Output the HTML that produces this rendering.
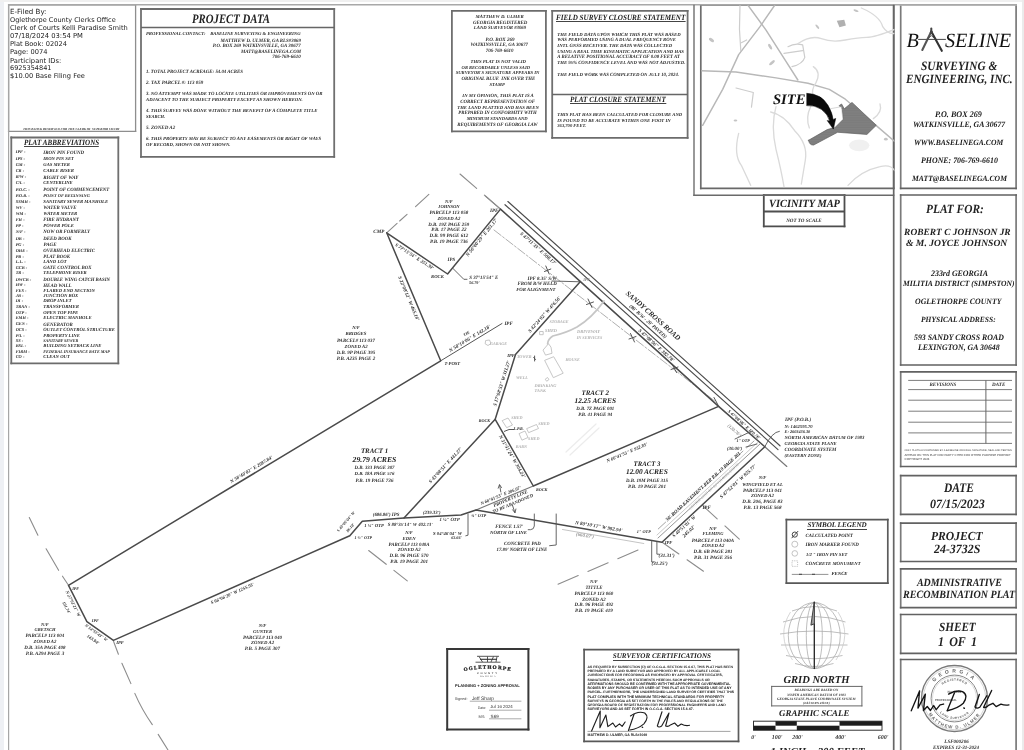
<!DOCTYPE html>
<html lang="en">
<head>
<meta charset="utf-8">
<title>Administrative Recombination Plat - Robert C Johnson Jr &amp; M. Joyce Johnson</title>
<style>
html,body{margin:0;padding:0;background:#fff;}
body{width:1024px;height:750px;position:relative;overflow:hidden;font-family:"Liberation Serif",serif;color:#222;text-rendering:geometricPrecision;}
#page{position:absolute;left:0;top:0;width:1024px;height:750px;overflow:hidden;background:#fff;filter:blur(0.65px);}
.edgeL{position:absolute;left:0;top:0;width:4px;height:750px;background:#eef0f4;}
.edgeT{position:absolute;left:0;top:0;width:1024px;height:2px;background:#f0f0f0;}
.edgeR{position:absolute;left:1021.5px;top:0;width:2.5px;height:750px;background:#ebebeb;}
.bx{position:absolute;box-sizing:border-box;border:1.8px solid #5c5c5c;}
.ln{position:absolute;background:#8a8a8a;}
.t{position:absolute;white-space:pre;line-height:1;}
.c{text-align:center;}
.bi{font-weight:bold;font-style:italic;}
.i{font-style:italic;}
.sans{font-family:"DejaVu Sans","Liberation Sans",sans-serif;}
svg{position:absolute;left:0;top:0;}
.tiny,.sm{color:#2e2e2e;}
.lt{color:#8a8a8a;}
.vlt{color:#b5b5b5;}
.trk{color:#222;}
.road{color:#2a2a2a;}
.cert{color:#222;}
.cert2{color:#333;}
.cert3{color:#444;}
.lt2{color:#b0b0b0;}
.c1{color:#1a1a1a;}
.c3{color:#333;}
.c4{color:#444;}
.c6{color:#666;}
.ul{border-bottom:0.8px solid #444;line-height:0.93;}
.sc{color:#333;}
.s{font-family:"Liberation Sans",sans-serif;}
.sb{font-family:"Liberation Sans",sans-serif;font-weight:bold;}
</style>
</head>
<body>
<div id="page">
<div class="edgeL"></div><div class="edgeT"></div><div class="edgeR"></div>

<!-- OUTER FRAME -->

<!-- E-FILED BLOCK -->

<!-- RIGHT COLUMN BOXES -->


<!-- FRAMES AND BOXES -->
<svg width="1024" height="750" viewBox="0 0 1024 750">
<g fill="none" stroke-linecap="square">
 <path d="M900.7 4.9V188.3M1016.1 4.9V188.3" stroke="#7a7a7a" stroke-width="1.7"/>
 <path d="M900.7 4.9H1016.1" stroke="#b4b4b4" stroke-width="1.7"/><path d="M900.7 188.3H1016.1" stroke="#626262" stroke-width="1.7"/>
 <path d="M900.7 195V365M1016.1 195V365" stroke="#7a7a7a" stroke-width="1.7"/>
 <path d="M900.7 195H1016.1M900.7 365H1016.1" stroke="#626262" stroke-width="1.7"/>
 <path d="M900.7 371.9V466.5M1016.1 371.9V466.5" stroke="#7a7a7a" stroke-width="1.7"/>
 <path d="M900.7 371.9H1016.1M900.7 466.5H1016.1" stroke="#626262" stroke-width="1.7"/>
 <path d="M900.7 475.7V514.4M1016.1 475.7V514.4" stroke="#7a7a7a" stroke-width="1.7"/>
 <path d="M900.7 475.7H1016.1M900.7 514.4H1016.1" stroke="#626262" stroke-width="1.7"/>
 <path d="M900.7 523.2V561.5M1016.1 523.2V561.5" stroke="#7a7a7a" stroke-width="1.7"/>
 <path d="M900.7 523.2H1016.1M900.7 561.5H1016.1" stroke="#626262" stroke-width="1.7"/>
 <path d="M900.7 568.8V607.7M1016.1 568.8V607.7" stroke="#7a7a7a" stroke-width="1.7"/>
 <path d="M900.7 568.8H1016.1M900.7 607.7H1016.1" stroke="#626262" stroke-width="1.7"/>
 <path d="M900.7 614.5V653.3M1016.1 614.5V653.3" stroke="#7a7a7a" stroke-width="1.7"/>
 <path d="M900.7 614.5H1016.1M900.7 653.3H1016.1" stroke="#626262" stroke-width="1.7"/>
 <path d="M900.7 659.5V760M1016.1 659.5V760" stroke="#7a7a7a" stroke-width="1.7"/>
 <path d="M900.7 659.5H1016.1M900.7 760H1016.1" stroke="#626262" stroke-width="1.7"/>
 <path d="M8.6 4.8V131.3M135.6 4.8V131.3" stroke="#8e8e8e" stroke-width="1.3"/>
 <path d="M8.6 4.8H135.6M8.6 131.3H135.6" stroke="#8e8e8e" stroke-width="1.3"/>
 <path d="M141 9V156.9M334.2 9V156.9" stroke="#707070" stroke-width="1.8"/>
 <path d="M141 9H334.2M141 156.9H334.2" stroke="#6c6c6c" stroke-width="1.8"/>
 <path d="M11.3 137.5V363.3M118.3 137.5V363.3" stroke="#707070" stroke-width="1.8"/>
 <path d="M11.3 137.5H118.3M11.3 363.3H118.3" stroke="#6c6c6c" stroke-width="1.8"/>
 <path d="M451.9 10.9V131.3M545.9 10.9V131.3" stroke="#707070" stroke-width="1.8"/>
 <path d="M451.9 10.9H545.9M451.9 131.3H545.9" stroke="#6c6c6c" stroke-width="1.8"/>
 <path d="M552.2 10.9V137.9M687.6 10.9V137.9" stroke="#707070" stroke-width="1.8"/>
 <path d="M552.2 10.9H687.6M552.2 137.9H687.6" stroke="#6c6c6c" stroke-width="1.8"/>
 <path d="M700.8 4.8V188.3M893.7 4.8V188.3" stroke="#6e6e6e" stroke-width="1.7"/>
 <path d="M700.8 4.8H893.7M700.8 188.3H893.7" stroke="#686868" stroke-width="1.7"/>
 <path d="M763.8 195.2V226.4M844.5 195.2V226.4" stroke="#4e4e4e" stroke-width="1.8"/>
 <path d="M763.8 195.2H844.5M763.8 226.4H844.5" stroke="#4e4e4e" stroke-width="1.8"/>
 <path d="M447.2 649.1V729.5M528.4 649.1V729.5" stroke="#383838" stroke-width="2.0"/>
 <path d="M447.2 649.1H528.4M447.2 729.5H528.4" stroke="#383838" stroke-width="2.0"/>
 <path d="M584.1 649.6V741.3M738.5 649.6V741.3" stroke="#5c5c5c" stroke-width="1.7"/>
 <path d="M584.1 649.6H738.5M584.1 741.3H738.5" stroke="#585858" stroke-width="1.7"/>
 <path d="M786.4 519.6V583.2M887.8 519.6V583.2" stroke="#5c5c5c" stroke-width="1.7"/>
 <path d="M786.4 519.6H887.8M786.4 583.2H887.8" stroke="#585858" stroke-width="1.7"/>
 <path d="M771.7 686.4V705.9M861.9 686.4V705.9" stroke="#666" stroke-width="1.0"/>
 <path d="M771.7 686.4H861.9M771.7 705.9H861.9" stroke="#666" stroke-width="1.0"/>
 <path d="M8 4.8L1017 4.8" stroke="#a8a8a8" stroke-width="1.4" stroke-linecap="butt"/>
 <path d="M8.6 4L8.6 750" stroke="#a6a6a6" stroke-width="1.2" stroke-linecap="butt"/>
 <path d="M694 4.8L694 195.9" stroke="#6e6e6e" stroke-width="1.4" stroke-linecap="butt"/>
 <path d="M693.3 195.2L894.3 195.2" stroke="#6a6a6a" stroke-width="1.4" stroke-linecap="butt"/>
 <path d="M893.7 4.8L893.7 750" stroke="#666" stroke-width="1.7" stroke-linecap="butt"/>
 <path d="M141 27.5L334.2 27.5" stroke="#666" stroke-width="1.6" stroke-linecap="butt"/>
 <path d="M552.2 94.5L687.6 94.5" stroke="#666" stroke-width="1.7" stroke-linecap="butt"/>
 <path d="M763.8 211.5L844.5 211.5" stroke="#4e4e4e" stroke-width="1.8" stroke-linecap="butt"/>
 <path d="M587.5 731.4L730.5 731.4" stroke="#999" stroke-width="0.9" stroke-linecap="butt"/>
</g>
</svg>

<!-- RIGHTCOL -->
<div class="t bi" style="left:921.1px;top:60px;font-size:12.72px;transform:scaleX(0.89);transform-origin:0 50%">SURVEYING &amp;</div>
<div class="t bi" style="left:906.4px;top:73px;font-size:12.5px;transform:scaleX(0.89);transform-origin:0 50%">ENGINEERING, INC.</div>
<div class="t bi" style="left:935.0px;top:110px;font-size:8.59px;transform:scaleX(0.95);transform-origin:0 50%">P.O. BOX 269</div>
<div class="t bi" style="left:912.7px;top:121px;font-size:8.16px;transform:scaleX(0.95);transform-origin:0 50%">WATKINSVILLE, GA 30677</div>
<div class="t bi" style="left:914.0px;top:139px;font-size:8.03px;transform:scaleX(0.95);transform-origin:0 50%">WWW.BASELINEGA.COM</div>
<div class="t bi" style="left:921.0px;top:157px;font-size:8.31px;transform:scaleX(0.95);transform-origin:0 50%">PHONE: 706-769-6610</div>
<div class="t bi" style="left:911.7px;top:175px;font-size:8.05px;transform:scaleX(0.95);transform-origin:0 50%">MATT@BASELINEGA.COM</div>
<div class="t bi" style="left:926.0px;top:203px;font-size:12.49px;transform:scaleX(0.91);transform-origin:0 50%">PLAT FOR:</div>
<div class="t bi" style="left:904.1px;top:229px;font-size:9.43px">ROBERT C JOHNSON JR</div>
<div class="t bi" style="left:906.0px;top:239px;font-size:9.6px">&amp; M. JOYCE JOHNSON</div>
<div class="t bi" style="left:930.7px;top:270px;font-size:8.34px;transform:scaleX(0.95);transform-origin:0 50%">233rd GEORGIA</div>
<div class="t bi" style="left:903.3px;top:280px;font-size:7.99px;transform:scaleX(0.95);transform-origin:0 50%">MILITIA DISTRICT (SIMPSTON)</div>
<div class="t bi" style="left:915.0px;top:298px;font-size:8.23px;transform:scaleX(0.95);transform-origin:0 50%">OGLETHORPE COUNTY</div>
<div class="t bi" style="left:921.0px;top:316px;font-size:7.9px;transform:scaleX(0.95);transform-origin:0 50%">PHYSICAL ADDRESS:</div>
<div class="t bi" style="left:914.0px;top:334px;font-size:8.28px;transform:scaleX(0.95);transform-origin:0 50%">593 SANDY CROSS ROAD</div>
<div class="t bi" style="left:918.3px;top:344px;font-size:8.27px;transform:scaleX(0.95);transform-origin:0 50%">LEXINGTON, GA 30648</div>
<div class="t bi" style="left:943.7px;top:481px;font-size:13.11px;transform:scaleX(0.87);transform-origin:0 50%">DATE</div>
<div class="t bi" style="left:930.4px;top:498px;font-size:12.8px;transform:scaleX(0.94);transform-origin:0 50%">07/15/2023</div>
<div class="t bi" style="left:931.4px;top:530px;font-size:12.35px;transform:scaleX(0.94);transform-origin:0 50%">PROJECT</div>
<div class="t bi" style="left:934.2px;top:543px;font-size:12.66px;transform:scaleX(0.94);transform-origin:0 50%">24-3732S</div>
<div class="t bi" style="left:916.7px;top:578px;font-size:11.03px;transform:scaleX(0.9);transform-origin:0 50%">ADMINISTRATIVE</div>
<div class="t bi" style="left:902.7px;top:590px;font-size:11.2px;transform:scaleX(0.9);transform-origin:0 50%">RECOMBINATION PLAT</div>
<div class="t bi" style="left:939.3px;top:621px;font-size:12.44px;transform:scaleX(0.9);transform-origin:0 50%">SHEET</div>
<div class="t bi" style="left:938.3px;top:634.8px;font-size:13.3px;word-spacing:2.5px;transform:scaleX(0.9);transform-origin:0 50%">1 OF 1</div>
<!-- BASELINE LOGO -->
<div class="t i" style="left:906.5px;top:30.8px;font-size:20.2px;color:#111">B</div>
<div class="t i" style="left:945px;top:30.8px;font-size:20.2px;color:#111">SELINE</div>
<svg width="1024" height="750" viewBox="0 0 1024 750">
 <g stroke="#222" fill="none" stroke-linecap="round">
  <path d="M918.5 39.4H945.5" stroke-width="0.9" stroke="#333"/>
  <path d="M931.3 31.5L922.3 50" stroke-width="2.1" stroke="#555"/>
  <path d="M931.3 31.5L941.8 50.8" stroke-width="2.1" stroke="#333"/>
  <path d="M931.3 28.6V32" stroke-width="2" stroke="#444"/>
  <path d="M927.3 39.3L931.3 35.6L935.6 39.3" stroke-width="0.9" stroke="#444"/>
  <circle cx="931.3" cy="32.6" r="1.5" fill="#444" stroke="none"/>
 </g>
</svg>

<!-- REVISIONS TABLE -->
<svg width="1024" height="750" viewBox="0 0 1024 750">
 <g stroke="#7d7d7d" stroke-width="1" fill="none">
  <path d="M908.2 380.4H1012M908.2 389.6H1012M908.2 400.2H1012M908.2 411.2H1012M908.2 422.2H1012M908.2 432.9H1012M908.2 443.4H1012"/>
  <path d="M985.9 380.4V443.4" stroke="#666"/>
 </g>
</svg>

<!-- REVTEXT -->
<div class="t bi tiny" style="left:929.5px;top:383px;font-size:5.05px">REVISIONS</div>
<div class="t bi tiny" style="left:992.1px;top:383px;font-size:5.05px">DATE</div>
<div class="t s cert3" style="left:904.5px;top:450px;font-size:2.55px">ONLY PLATS ACCOMPANIED BY A BASELINE ORIGINAL SIGNATURE, SEAL AND PERTAIN</div>
<div class="t s cert3" style="left:904.5px;top:454px;font-size:2.91px">APPEAR ON THIS PLAT FOR PARTY CITED FOR OTHER PURPOSE PROHIBIT</div>
<div class="t s cert3" style="left:904.5px;top:458px;font-size:2.97px">COPYRIGHT 2024</div>
<!-- TOPLEFT -->
<div class="t sans" style="left:10.0px;top:8px;font-size:7.07px">E-Filed By:</div>
<div class="t sans" style="left:10.0px;top:17px;font-size:6.56px">Oglethorpe County Clerks Office</div>
<div class="t sans" style="left:10.0px;top:25px;font-size:6.69px">Clerk of Courts Kelli Paradise Smith</div>
<div class="t sans" style="left:10.0px;top:33px;font-size:6.79px">07/18/2024 03:54 PM</div>
<div class="t sans" style="left:10.0px;top:41px;font-size:6.68px">Plat Book: 02024</div>
<div class="t sans" style="left:10.0px;top:49px;font-size:6.67px">Page: 0074</div>
<div class="t sans" style="left:10.0px;top:58px;font-size:6.78px">Participant IDs:</div>
<div class="t sans" style="left:10.0px;top:65px;font-size:6.52px">6925354841</div>
<div class="t sans" style="left:10.0px;top:73px;font-size:6.67px">$10.00 Base Filing Fee</div>
<div class="t bi sm" style="left:23.0px;top:128px;font-size:3.22px">THIS BLOCK RESERVED FOR THE CLERK OF SUPERIOR COURT</div>
<div class="t bi" style="left:191.8px;top:13px;font-size:12.82px;transform:scaleX(0.84);transform-origin:0 50%">PROJECT DATA</div>
<div class="t bi tiny" style="left:146.0px;top:33px;font-size:4.71px">PROFESSIONAL CONTACT:    BASELINE SURVEYING &amp; ENGINEERING</div>
<div class="t bi tiny" style="left:220.6px;top:40px;font-size:4.88px">MATTHEW D. ULMER, GA RLS#3069</div>
<div class="t bi tiny" style="left:212.8px;top:45px;font-size:4.93px">P.O. BOX 269 WATKINSVILLE, GA 30677</div>
<div class="t bi tiny" style="left:241.0px;top:51px;font-size:4.83px">MATT@BASELINEGA.COM</div>
<div class="t bi tiny" style="left:272.2px;top:55px;font-size:5.05px">706-769-6610</div>
<div class="t bi tiny" style="left:146.0px;top:71px;font-size:4.85px">1. TOTAL PROJECT ACREAGE: 54.04 ACRES</div>
<div class="t bi tiny" style="left:146.0px;top:81px;font-size:5.01px">2. TAX PARCEL #: 113 059</div>
<div class="t bi tiny" style="left:146.0px;top:93px;font-size:4.79px">3. NO ATTEMPT WAS MADE TO LOCATE UTILITIES OR IMPROVEMENTS ON OR</div>
<div class="t bi tiny" style="left:146.0px;top:99px;font-size:4.72px">ADJACENT TO THE SUBJECT PROPERTY EXCEPT AS SHOWN HEREON.</div>
<div class="t bi tiny" style="left:146.0px;top:110px;font-size:4.77px">4. THIS SURVEY WAS DONE WITHOUT THE BENEFIT OF A COMPLETE TITLE</div>
<div class="t bi tiny" style="left:146.0px;top:115px;font-size:4.54px">SEARCH.</div>
<div class="t bi tiny" style="left:146.0px;top:126px;font-size:5.03px">5. ZONED A2</div>
<div class="t bi tiny" style="left:146.0px;top:138px;font-size:4.78px">6. THIS PROPERTY MAY BE SUBJECT TO ANY EASEMENTS OR RIGHT OF WAYS</div>
<div class="t bi tiny" style="left:146.0px;top:144px;font-size:4.7px">OF RECORD, SHOWN OR NOT SHOWN.</div>
<!-- ABBREV -->
<div class="t bi ul" style="left:24.0px;top:139px;font-size:8.03px;transform:scaleX(0.88);transform-origin:0 50%">PLAT ABBREVIATIONS</div>
<div class="t bi tiny" style="left:15.7px;top:150px;font-size:4.4px">IPF -</div>
<div class="t bi tiny" style="left:43.3px;top:152px;font-size:4.95px">IRON PIN FOUND</div>
<div class="t bi tiny" style="left:15.7px;top:157px;font-size:4.4px">IPS -</div>
<div class="t bi tiny" style="left:43.3px;top:158px;font-size:4.68px">IRON PIN SET</div>
<div class="t bi tiny" style="left:15.7px;top:163px;font-size:4.4px">GM -</div>
<div class="t bi tiny" style="left:43.3px;top:164px;font-size:4.69px">GAS METER</div>
<div class="t bi tiny" style="left:15.7px;top:169px;font-size:4.4px">CR -</div>
<div class="t bi tiny" style="left:43.3px;top:170px;font-size:4.74px">CABLE RISER</div>
<div class="t bi tiny" style="left:15.7px;top:175px;font-size:4.4px">R/W -</div>
<div class="t bi tiny" style="left:43.3px;top:177px;font-size:4.96px">RIGHT OF WAY</div>
<div class="t bi tiny" style="left:15.7px;top:181px;font-size:4.4px">C/L -</div>
<div class="t bi tiny" style="left:43.3px;top:181px;font-size:4.6px">CENTERLINE</div>
<div class="t bi tiny" style="left:15.7px;top:188px;font-size:4.4px">P.O.C. -</div>
<div class="t bi tiny" style="left:43.3px;top:189px;font-size:4.82px">POINT OF COMMENCEMENT</div>
<div class="t bi tiny" style="left:15.7px;top:194px;font-size:4.4px">P.O.B. -</div>
<div class="t bi tiny" style="left:43.3px;top:194px;font-size:4.39px">POINT OF BEGINNING</div>
<div class="t bi tiny" style="left:15.7px;top:200px;font-size:4.4px">SSMH -</div>
<div class="t bi tiny" style="left:43.3px;top:201px;font-size:4.72px">SANITARY SEWER MANHOLE</div>
<div class="t bi tiny" style="left:15.7px;top:206px;font-size:4.4px">WV -</div>
<div class="t bi tiny" style="left:43.3px;top:207px;font-size:4.92px">WATER VALVE</div>
<div class="t bi tiny" style="left:15.7px;top:212px;font-size:4.4px">WM -</div>
<div class="t bi tiny" style="left:43.3px;top:213px;font-size:4.77px">WATER METER</div>
<div class="t bi tiny" style="left:15.7px;top:218px;font-size:4.4px">FH -</div>
<div class="t bi tiny" style="left:43.3px;top:219px;font-size:4.81px">FIRE HYDRANT</div>
<div class="t bi tiny" style="left:15.7px;top:224px;font-size:4.4px">PP -</div>
<div class="t bi tiny" style="left:43.3px;top:225px;font-size:4.78px">POWER POLE</div>
<div class="t bi tiny" style="left:15.7px;top:230px;font-size:4.4px">N/F -</div>
<div class="t bi tiny" style="left:43.3px;top:231px;font-size:4.83px">NOW OR FORMERLY</div>
<div class="t bi tiny" style="left:15.7px;top:237px;font-size:4.4px">DB -</div>
<div class="t bi tiny" style="left:43.3px;top:238px;font-size:4.89px">DEED BOOK</div>
<div class="t bi tiny" style="left:15.7px;top:243px;font-size:4.4px">PG -</div>
<div class="t bi tiny" style="left:43.5px;top:243px;font-size:5.05px">PAGE</div>
<div class="t bi tiny" style="left:15.7px;top:249px;font-size:4.4px">OHE -</div>
<div class="t bi tiny" style="left:43.3px;top:250px;font-size:4.81px">OVERHEAD ELECTRIC</div>
<div class="t bi tiny" style="left:15.7px;top:255px;font-size:4.4px">PB -</div>
<div class="t bi tiny" style="left:43.3px;top:256px;font-size:4.88px">PLAT BOOK</div>
<div class="t bi tiny" style="left:15.7px;top:260px;font-size:4.4px">L.L. -</div>
<div class="t bi tiny" style="left:43.3px;top:261px;font-size:4.76px">LAND LOT</div>
<div class="t bi tiny" style="left:15.7px;top:266px;font-size:4.4px">GCB -</div>
<div class="t bi tiny" style="left:43.3px;top:267px;font-size:4.91px">GATE CONTROL BOX</div>
<div class="t bi tiny" style="left:15.7px;top:271px;font-size:4.4px">TR -</div>
<div class="t bi tiny" style="left:43.3px;top:272px;font-size:4.69px">TELEPHONE RISER</div>
<div class="t bi tiny" style="left:15.7px;top:278px;font-size:4.4px">DWCB -</div>
<div class="t bi tiny" style="left:43.3px;top:279px;font-size:4.8px">DOUBLE WING CATCH BASIN</div>
<div class="t bi tiny" style="left:15.7px;top:283px;font-size:4.4px">HW -</div>
<div class="t bi tiny" style="left:43.3px;top:285px;font-size:4.92px">HEAD WALL</div>
<div class="t bi tiny" style="left:15.7px;top:289px;font-size:4.4px">FES -</div>
<div class="t bi tiny" style="left:43.3px;top:290px;font-size:4.72px">FLARED END SECTION</div>
<div class="t bi tiny" style="left:15.7px;top:294px;font-size:4.4px">JB -</div>
<div class="t bi tiny" style="left:43.3px;top:295px;font-size:4.75px">JUNCTION BOX</div>
<div class="t bi tiny" style="left:15.7px;top:299px;font-size:4.4px">DI -</div>
<div class="t bi tiny" style="left:43.3px;top:300px;font-size:4.78px">DROP INLET</div>
<div class="t bi tiny" style="left:15.7px;top:305px;font-size:4.4px">TRAN -</div>
<div class="t bi tiny" style="left:43.3px;top:306px;font-size:4.76px">TRANSFORMER</div>
<div class="t bi tiny" style="left:15.7px;top:311px;font-size:4.4px">OTP -</div>
<div class="t bi tiny" style="left:43.3px;top:312px;font-size:4.74px">OPEN TOP PIPE</div>
<div class="t bi tiny" style="left:15.7px;top:316px;font-size:4.4px">EMH -</div>
<div class="t bi tiny" style="left:43.3px;top:317px;font-size:4.72px">ELECTRIC MANHOLE</div>
<div class="t bi tiny" style="left:15.7px;top:322px;font-size:4.4px">GEN -</div>
<div class="t bi tiny" style="left:43.3px;top:324px;font-size:4.87px">GENERATOR</div>
<div class="t bi tiny" style="left:15.7px;top:328px;font-size:4.4px">OCS -</div>
<div class="t bi tiny" style="left:43.3px;top:329px;font-size:4.77px">OUTLET CONTROL STRUCTURE</div>
<div class="t bi tiny" style="left:15.7px;top:334px;font-size:4.4px">P/L -</div>
<div class="t bi tiny" style="left:43.3px;top:335px;font-size:4.72px">PROPERTY LINE</div>
<div class="t bi tiny" style="left:15.7px;top:339px;font-size:4.4px">SS -</div>
<div class="t bi tiny" style="left:43.2px;top:339px;font-size:4.15px">SANITARY SEWER</div>
<div class="t bi tiny" style="left:15.7px;top:344px;font-size:4.4px">BSL -</div>
<div class="t bi tiny" style="left:43.3px;top:345px;font-size:4.73px">BUILDING SETBACK LINE</div>
<div class="t bi tiny" style="left:15.7px;top:350px;font-size:4.4px">FIRM -</div>
<div class="t bi tiny" style="left:43.3px;top:350px;font-size:4.2px">FEDERAL INSURANCE RATE MAP</div>
<div class="t bi tiny" style="left:15.7px;top:355px;font-size:4.4px">CO -</div>
<div class="t bi tiny" style="left:43.3px;top:356px;font-size:4.73px">CLEAN OUT</div>
<!-- STATEMENTS -->
<div class="t bi tiny" style="left:475.6px;top:16px;font-size:4.79px">MATTHEW D. ULMER</div>
<div class="t bi tiny" style="left:473.0px;top:22px;font-size:4.92px">GEORGIA REGISTERED</div>
<div class="t bi tiny" style="left:473.8px;top:27px;font-size:4.78px">LAND SURVEYOR #3069</div>
<div class="t bi tiny" style="left:485.5px;top:38px;font-size:5.05px">P.O. BOX 269</div>
<div class="t bi tiny" style="left:470.5px;top:44px;font-size:4.84px">WATKINSVILLE, GA 30677</div>
<div class="t bi tiny" style="left:485.7px;top:50px;font-size:4.92px">706-769-6610</div>
<div class="t bi tiny" style="left:470.5px;top:61px;font-size:4.74px">THIS PLAT IS NOT VALID</div>
<div class="t bi tiny" style="left:461.6px;top:66px;font-size:4.56px">OR RECORDABLE UNLESS SAID</div>
<div class="t bi tiny" style="left:455.7px;top:72px;font-size:4.65px">SURVEYOR'S SIGNATURE APPEARS IN</div>
<div class="t bi tiny" style="left:461.6px;top:78px;font-size:4.8px">ORIGINAL BLUE  INK OVER THE</div>
<div class="t bi tiny" style="left:489.5px;top:84px;font-size:4.67px">STAMP</div>
<div class="t bi tiny" style="left:462.3px;top:95px;font-size:4.79px">IN MY OPINION, THIS PLAT IS A</div>
<div class="t bi tiny" style="left:460.3px;top:101px;font-size:4.87px">CORRECT REPRESENTATION OF</div>
<div class="t bi tiny" style="left:457.3px;top:107px;font-size:4.73px">THE LAND PLATTED AND HAS BEEN</div>
<div class="t bi tiny" style="left:458.3px;top:112px;font-size:4.81px">PREPARED IN CONFORMITY WITH</div>
<div class="t bi tiny" style="left:466.7px;top:117px;font-size:4.58px">MINIMUM STANDARDS AND</div>
<div class="t bi tiny" style="left:457.3px;top:124px;font-size:4.84px">REQUIREMENTS OF GEORGIA LAW</div>
<div class="t bi ul" style="left:555.5px;top:14px;font-size:7.93px;transform:scaleX(0.9);transform-origin:0 50%">FIELD SURVEY CLOSURE STATEMENT</div>
<div class="t bi ul" style="left:569.5px;top:96px;font-size:7.93px;transform:scaleX(0.9);transform-origin:0 50%">PLAT CLOSURE STATEMENT</div>
<div class="t bi tiny" style="left:557.3px;top:34px;font-size:4.75px">THE FIELD DATA UPON WHICH THIS PLAT WAS BASED</div>
<div class="t bi tiny" style="left:557.3px;top:39px;font-size:4.76px">WAS PERFORMED USING A DUAL FREQUENCY ROVE</div>
<div class="t bi tiny" style="left:557.3px;top:45px;font-size:4.76px">INTL GNSS RECEIVER. THE DATA WAS COLLECTED</div>
<div class="t bi tiny" style="left:557.3px;top:51px;font-size:4.74px">USING A REAL TIME KINEMATIC APPLICATION AND HAS</div>
<div class="t bi tiny" style="left:557.3px;top:56px;font-size:4.83px">A RELATIVE POSITIONAL ACCURACY OF 0.08 FEET AT</div>
<div class="t bi tiny" style="left:557.3px;top:62px;font-size:4.76px">THE 95% CONFIDENCE LEVEL AND WAS NOT ADJUSTED.</div>
<div class="t bi tiny" style="left:557.3px;top:74px;font-size:4.78px">THE FIELD WORK WAS COMPLETED ON JULY 10, 2024.</div>
<div class="t bi tiny" style="left:557.3px;top:114px;font-size:4.72px">THIS PLAT HAS BEEN CALCULATED FOR CLOSURE AND</div>
<div class="t bi tiny" style="left:557.3px;top:120px;font-size:4.72px">IS FOUND TO BE ACCURATE WITHIN ONE FOOT IN</div>
<div class="t bi tiny" style="left:557.3px;top:124px;font-size:4.58px">363,700 FEET.</div>
<!-- VICINITY MAP -->
<svg width="1024" height="750" viewBox="0 0 1024 750">
<defs>
<pattern id="hatch" width="9" height="9" patternUnits="userSpaceOnUse" patternTransform="rotate(0)"><rect width="9" height="9" fill="#858585"/><path d="M0 2H9M0 6.5H9" stroke="#6e6e6e" stroke-width="1.6"/></pattern>
<clipPath id="vclip"><rect x="20" y="20" width="724" height="684"/></clipPath>
</defs>
<g transform="translate(696,0) scale(0.266667)" fill="none" stroke-linecap="round" stroke-linejoin="round" clip-path="url(#vclip)">
 <!-- roads -->
 <g stroke="#b8b8b8" stroke-width="5.5">
  <path d="M20 265 L150 270 L300 292 L420 312 L500 335 L560 372 L640 440 L745 530"/>
  <path d="M195 20 L262 112 L332 222 L382 300"/>
  <path d="M295 20 L240 100 L160 205 L100 335 L25 470"/>
 </g>
 <g stroke="#cdcdcd" stroke-width="4.5">
  <path d="M165 20 L163 110 L168 190"/>
  <path d="M150 330 L215 347 L208 402"/>
  <path d="M345 175 Q370 160 400 168 L408 215 Q400 240 360 250"/>
  <path d="M330 200 L400 190"/>
  <path d="M170 160 L190 150"/>
 </g>
 <!-- streams -->
 <g stroke="#dadada" stroke-width="5">
  <path d="M380 165 Q430 130 470 145 T560 150 T640 140 T745 110"/>
  <path d="M440 250 Q470 270 450 310 Q430 340 440 360"/>
  <path d="M280 420 Q330 430 370 490 Q420 540 410 600 L395 690"/>
  <path d="M300 400 Q280 470 300 560 Q320 640 330 700"/>
  <path d="M160 500 Q140 580 170 620 L205 695"/>
  <path d="M570 695 Q620 640 690 625 Q730 615 745 640"/>
  <path d="M690 390 Q700 420 665 445"/>
  <path d="M430 400 Q410 440 425 480"/>
  <path d="M620 30 Q690 60 700 100 Q720 130 745 125"/>
 </g>
 <!-- blotches -->
 <g fill="#c4c4c4" stroke="none">
  <path d="M528 78 L556 74 L562 96 L538 102Z" fill="#b0b0b0"/>
  <ellipse cx="58" cy="150" rx="11" ry="6" transform="rotate(35 58 150)"/>
  <ellipse cx="278" cy="175" rx="12" ry="5" transform="rotate(60 278 175)"/>
  <ellipse cx="285" cy="235" rx="13" ry="5" transform="rotate(-40 285 235)"/>
  <ellipse cx="455" cy="100" rx="10" ry="4" transform="rotate(50 455 100)"/>
  <ellipse cx="600" cy="40" rx="10" ry="4" transform="rotate(20 600 40)"/>
  <ellipse cx="148" cy="452" rx="7" ry="4"/>
  <ellipse cx="712" cy="522" rx="7" ry="5"/>
  <ellipse cx="612" cy="545" rx="38" ry="22" fill="#f0f0f0"/>
 </g>
 <!-- site parcel -->
 <path d="M422 526 L492 486 L520 478 L551 447 L549 410 L537 396 L546 390 L556 408 L585 384 L676 470 L641 504 L531 496 L441 544 Q425 545 422 526Z" fill="url(#hatch)" stroke="#5a5a5a" stroke-width="2.5"/>
 <path d="M503 408 L545 400 L551 447 L520 478 L508 452Z" fill="#fff" stroke="#999" stroke-width="1.5"/>
 <!-- arrow -->
 <path d="M416 350 Q470 352 495 395 Q512 425 514 448 L524 444 L515 484 L492 452 L501 454 Q496 430 470 410 Q445 393 416 396Z" fill="#0a0a0a" stroke="#0a0a0a" stroke-width="2"/>
</g>
</svg>
<div class="t bi" style="left:773px;top:93.4px;font-size:14.6px;color:#111">SITE</div>
<!-- vicinity label -->

<!-- VICLABEL -->
<div class="t bi" style="left:769.0px;top:199px;font-size:11.07px;transform:scaleX(0.94);transform-origin:0 50%">VICINITY MAP</div>
<div class="t bi tiny" style="left:786.2px;top:219px;font-size:5.05px">NOT TO SCALE</div>
<!-- MAIN SURVEY LINEWORK -->
<svg width="1024" height="750" viewBox="0 0 1024 750">
<g fill="none" stroke-linecap="round" stroke-linejoin="round">
 <!-- road right-of-way / pavement lines -->
 <g stroke="#4c4c4c" stroke-width="1.15">
  <path d="M505 204.7L778 449.6"/>
  <path d="M507.9 201.5L780 445.8"/>
  <path d="M484.4 195.1L500.5 209.1" stroke="#888"/>
  <path d="M764.8 446.7L786.8 466.5" stroke="#777"/>
 </g>
 <!-- light tie / old line through tract 2 -->
 <path d="M494 230L716 402" stroke="#9a9a9a" stroke-width="0.8" stroke-dasharray="9 2 2 2"/>
 <g stroke="#555" stroke-width="1">
  <path d="M545.8 266L549.2 274M544.5 271.5L550.8 269"/>
  <path d="M588 299L592 307.5M586.5 304.5L593.5 302"/>
  <path d="M630.5 333.5L634.5 342M629 339L636 336.5"/>
  <path d="M672 364L676.5 372.5M671 369.5L678 367"/>
  <path d="M714 397.5L718 405"/>
 </g>
 <!-- adjoiner dashed lines -->
 <g stroke="#8c8c8c" stroke-width="1.1" stroke-dasharray="13 7">
  <path d="M386.7 232.8L430 193.4" stroke-dasharray="14 3.5 10 11.5 18 100"/>
  <path d="M460 174L500.5 209.1" stroke-dasharray="22 11.6"/>
  <path d="M29.3 517.6L37.9 535.2M46.1 548.8L58.6 570.3M62.5 576.2L68.5 585.3" stroke-dasharray="none"/>
  <path d="M113.6 641.5L118.4 654.3M121.9 663.3L130.9 683.6M134.8 693.4Q142 710 152.3 724.6M158.2 734.4L168 750" stroke-dasharray="none"/>
  <path d="M349.8 535.7L410 583" stroke-dasharray="0 24 22.3 9.8 17 100"/>
  <path d="M638 550L556 585" stroke-dasharray="22 10.5"/>
  
  <path d="M662.5 542.5L705 572.3" stroke-dasharray="20 10"/>
  <path d="M702.8 505.7L742 541.6" stroke-dasharray="19.5 10.5"/>
 </g>
 <!-- tie line T-POST to IPF -->
 <path d="M440.7 360.8L502 323.5" stroke="#555" stroke-width="1"/>
 <!-- property line to be abandoned -->
 <path d="M476 510L533.3 486" stroke="#777" stroke-width="1.1"/>
 <!-- tract boundaries -->
 <g stroke="#4a4a4a" stroke-width="1.5">
  <path d="M386.7 232.8L447.6 274L500.5 209.1L580.4 281.6L718.6 406.4L764.8 446.7L662 542.3L476 510L461 515L404 518L362.3 521.3L349.8 535.7L113.4 640.4L86.9 621.6L68.5 585.3L440.7 360.8Z"/>
  <path d="M580.4 281.6L515.5 354.5L495.2 419.3L404 518"/>
  <path d="M495.2 419.3L533.3 486L718.6 406.4"/>
 </g>
 <!-- road easement lines in tract 3 -->
 <g stroke="#8a8a8a" stroke-width="0.9">
  <path d="M760 444L658 538"/>
  <path d="M754 441L656 531" stroke-dasharray="10 5" stroke="#999"/>
  <path d="M757.5 442.5L657 535" stroke="#c4c4c4"/>
 </g>
 <!-- leaders -->
 <g stroke="#555" stroke-width="0.9">
  <path d="M452.8 268.3L463.8 279.3H467"/>
  <path d="M552 281L580 281.8"/>
  <path d="M779.4 431.3Q772 432 764.8 446.7"/>
  <path d="M468 514V535.2L465.8 535.8"/>
  <path d="M534.3 514V526Q534 529.5 530.5 529.7H528.2"/>
  <path d="M556.2 514V545L549.6 545.7"/>
  <path d="M656.9 542V554.2H659"/>
  <path d="M651.7 541.5V562H654"/>
  <path d="M746 447L757 444"/>
  <path d="M735 439L752 431"/>
  <path d="M500.8 492L499.6 485M498.2 488.2L499.5 484.6L501.5 487.6M512.4 505L514.8 512.4M512.6 509.8L515 512.9L515.9 509"/>
  <path d="M562.5 529.5L643.8 543.5" stroke="#bdbdbd"/>
 </g>
</g>
</svg>

<!-- EXISTING STRUCTURES (light) -->
<svg width="1024" height="750" viewBox="0 0 1024 750">
 <g fill="none" stroke="#b9b9b9" stroke-width="0.8" stroke-linejoin="round" stroke-linecap="round">
  <path d="M604 301Q592 318 577 327Q566 333 552.8 336Q548 339 547.6 343.7" stroke="#c6c6c6" stroke-width="1.7"/>
  <path d="M545 360.2L553.7 356.7L563.2 373.2L553.7 377.5Z"/>
  <path d="M543.3 349.8L548.5 343.7L551 347.2L552 353.3L545.9 355Z"/>
  <rect x="540" y="331.5" width="3.2" height="3.2"/>
  <path d="M486 340.5L489.5 340L491 343.5L488 345.5L485.5 344Z"/>
  <path d="M545.5 379L547.5 377.5L549 379.5L547 381Z"/>
  <path d="M502.5 420.5L508 418L512.5 425L507 427.5Z"/>
  <path d="M519.4 433.5L525 431L528 437.5L522.3 440Z"/>
  <path d="M527 428.5L536.5 424.5L538.5 428.5L529 432.5Z"/>
  <path d="M566 452L596 424M570 455L599 428" stroke="#ececec" stroke-width="1.2"/>
 </g>
 <g stroke="#444" stroke-width="0.9" fill="none">
  <path d="M534.6 355.6V361.4M533.4 357.2L535.8 359.8"/>
  <path d="M504 431.5L509 429.5H514"/>
 </g>
</svg>

<!-- LABELS_A -->
<div class="t bi tiny" style="left:445.1px;top:200px;font-size:4.56px">N/F</div>
<div class="t bi tiny" style="left:438.1px;top:205px;font-size:4.57px">JOHNSON</div>
<div class="t bi tiny" style="left:429.4px;top:211px;font-size:5.01px">PARCEL# 113 058</div>
<div class="t bi tiny" style="left:437.4px;top:218px;font-size:4.75px">ZONED A2</div>
<div class="t bi tiny" style="left:428.3px;top:224px;font-size:4.93px">D.B. 19Z PAGE 259</div>
<div class="t bi tiny" style="left:431.2px;top:228px;font-size:5.05px">P.B. 17 PAGE 22</div>
<div class="t bi tiny" style="left:429.4px;top:234px;font-size:5.03px">D.B. 99 PAGE 612</div>
<div class="t bi tiny" style="left:430.0px;top:240px;font-size:5.05px">P.B. 19 PAGE 736</div>
<div class="t bi tiny" style="left:373.3px;top:230px;font-size:5.05px">CMP</div>
<div class="t bi tiny" style="left:490.0px;top:209px;font-size:5.04px">IPF</div>
<div class="t bi tiny" style="left:447.6px;top:259px;font-size:4.88px">IPS</div>
<div class="t bi tiny" style="left:431.1px;top:276px;font-size:4.66px">ROCK</div>
<div class="t bi tiny" style="left:469.2px;top:277px;font-size:4.9px">S 37°15'54" E</div>
<div class="t bi tiny" style="left:469.1px;top:281px;font-size:4.15px">56.79'</div>
<div class="t bi tiny" style="left:392.2px;top:256.2px;width:45.0px;font-size:4.87px;transform:rotate(33.0deg);transform-origin:50% 0.33px">S 77°15'54" E 351.30'</div>
<div class="t bi tiny" style="left:457.8px;top:235.8px;width:47.2px;font-size:5.02px;transform:rotate(-51.0deg);transform-origin:50% 1.32px">N 50°00'29" E 201.17'</div>
<div class="t bi tiny" style="left:385.2px;top:296.7px;width:47.6px;font-size:5.05px;transform:rotate(67.0deg);transform-origin:50% 1.32px">S 22°08'12" W 465.16'</div>
<div class="t bi tiny" style="left:514.6px;top:246.7px;width:46.4px;font-size:5.05px;transform:rotate(42.0deg);transform-origin:50% 1.32px">S 47°11'33" E 508.17'</div>
<div class="t bi tiny" style="left:527.6px;top:278px;font-size:4.95px">IPF 8.35' S/W</div>
<div class="t bi tiny" style="left:517.4px;top:283px;font-size:4.9px">FROM R/W HELD</div>
<div class="t bi tiny" style="left:516.2px;top:289px;font-size:4.75px">FOR ALIGNMENT</div>
<div class="t bi tiny lt" style="left:583.2px;top:278px;font-size:4.15px">IPF</div>
<div class="t bi tiny" style="left:463.1px;top:331.8px;width:6.9px;font-size:4.15px;transform:rotate(-31.4deg);transform-origin:50% 1.58px">TIE</div>
<div class="t bi tiny" style="left:445.6px;top:336.8px;width:47.5px;font-size:5.05px;transform:rotate(-31.4deg);transform-origin:50% 1.32px">N 58°10'06" E 142.18'</div>
<div class="t bi tiny" style="left:504.4px;top:322px;font-size:5.05px">IPF</div>
<div class="t bi tiny" style="left:444.6px;top:363px;font-size:4.68px">T-POST</div>
<div class="t bi tiny" style="left:520.7px;top:314.3px;width:46.8px;font-size:4.97px;transform:rotate(-48.5deg);transform-origin:50% 0.32px">S 42°24'02" W 476.56'</div>
<div class="t bi tiny" style="left:507.3px;top:354px;font-size:4.56px">IPF</div>
<div class="t bi tiny" style="left:352.2px;top:326px;font-size:4.56px">N/F</div>
<div class="t bi tiny" style="left:345.5px;top:333px;font-size:4.78px">BRIDGES</div>
<div class="t bi tiny" style="left:337.0px;top:340px;font-size:4.9px">PARCEL# 113 037</div>
<div class="t bi tiny" style="left:344.6px;top:346px;font-size:4.75px">ZONED A2</div>
<div class="t bi tiny" style="left:336.8px;top:352px;font-size:4.93px">D.B. 9P PAGE 395</div>
<div class="t bi tiny" style="left:336.8px;top:357px;font-size:5.05px">P.B. A235 PAGE 2</div>
<div class="t bi road" style="left:618.2px;top:313.1px;width:70.6px;font-size:7.29px;transform:rotate(41.6deg);transform-origin:50% 2.58px">SANDY CROSS ROAD</div>
<div class="t bi tiny" style="left:624.3px;top:320.2px;width:48.3px;font-size:5.05px;transform:rotate(41.6deg);transform-origin:50% 1.32px">(80' R/W - 20' PAVED)</div>
<div class="t bi tiny" style="left:632.7px;top:343.9px;width:46.6px;font-size:5.05px;transform:rotate(42.1deg);transform-origin:50% 1.32px">S 47°08'06" E 382.78'</div>
<div class="t bi tiny" style="left:723.0px;top:422.8px;width:42.0px;font-size:4.55px;transform:rotate(42.1deg);transform-origin:50% 1.50px">S 47°08'06" E 120.76'</div>
<div class="t bi trk" style="left:581.4px;top:390px;font-size:6.97px">TRACT 2</div>
<div class="t bi trk" style="left:574.5px;top:397px;font-size:7.3px">12.25 ACRES</div>
<div class="t bi tiny" style="left:576.3px;top:408px;font-size:4.85px">D.B. 7Z PAGE 001</div>
<div class="t bi tiny" style="left:578.3px;top:414px;font-size:4.86px">P.B. 41 PAGE 94</div>
<div class="t bi tiny" style="left:477.6px;top:381.7px;width:47.3px;font-size:5.05px;transform:rotate(-72.5deg);transform-origin:50% 1.32px">S 17°08'53" W 311.27'</div>
<div class="t bi tiny" style="left:478.7px;top:419px;font-size:4.19px">ROCK</div>
<div class="t bi tiny" style="left:422.4px;top:464.0px;width:46.6px;font-size:5.05px;transform:rotate(-47.3deg);transform-origin:50% 1.32px">S 43°08'51" E 441.27'</div>
<div class="t bi tiny" style="left:487.5px;top:454.9px;width:48.4px;font-size:5.05px;transform:rotate(60.0deg);transform-origin:50% 1.32px">N 31°31'24" W 304.23'</div>
<div class="t bi tiny" style="left:535.9px;top:488px;font-size:4.19px">ROCK</div>
<div class="t bi tiny" style="left:605.2px;top:451.6px;width:44.1px;font-size:4.69px;transform:rotate(-23.2deg);transform-origin:50% 0.54px">N 66°41'53" E 932.85'</div>
<div class="t bi tiny" style="left:479.1px;top:495.1px;width:43.5px;font-size:4.63px;transform:rotate(-22.0deg);transform-origin:50% 0.51px">N 66°41'53" E 206.07'</div>
<div class="t bi tiny" style="left:492.4px;top:498.1px;width:37.0px;font-size:4.76px;transform:rotate(-22.6deg);transform-origin:50% 0.55px">PROPERTY LINE</div>
<div class="t bi tiny" style="left:491.1px;top:503.2px;width:43.7px;font-size:4.65px;transform:rotate(-22.5deg);transform-origin:50% 0.50px">TO BE ABANDONED</div>
<div class="t bi tiny" style="left:422.9px;top:512px;font-size:4.79px">(239.33')</div>
<div class="t bi tiny" style="left:439.4px;top:519px;font-size:4.78px">1 ¼" OTP</div>
<div class="t bi tiny" style="left:471.1px;top:514px;font-size:4.34px">¾" OTP</div>
<div class="t bi tiny" style="left:387.7px;top:524px;font-size:4.77px">S 88°35'14" W 402.73'</div>
<div class="t bi tiny" style="left:433.0px;top:533px;font-size:4.71px">S 04°46'04" W</div>
<div class="t bi tiny" style="left:451.2px;top:536px;font-size:4.15px">63.66'</div>
<div class="t bi tiny" style="left:495.2px;top:526px;font-size:4.94px">FENCE 1.57'</div>
<div class="t bi tiny" style="left:490.1px;top:532px;font-size:4.75px">NORTH OF LINE</div>
<div class="t bi tiny" style="left:504.1px;top:543px;font-size:4.86px">CONCRETE PAD</div>
<div class="t bi tiny" style="left:496.5px;top:549px;font-size:4.82px">17.89' NORTH OF LINE</div>
<div class="t bi tiny" style="left:574.7px;top:525.2px;width:47.8px;font-size:4.99px;transform:rotate(9.8deg);transform-origin:50% 1.32px">N 80°10'17" W 982.94'</div>
<div class="t bi tiny lt" style="left:576.0px;top:535.0px;width:18.0px;font-size:4.87px;transform:rotate(9.8deg);transform-origin:50% 0.33px">(660.07')</div>
<div class="t bi tiny" style="left:636.8px;top:530px;font-size:4.31px">1" OTP</div>
<!-- LABELS_B -->
<div class="t bi tiny" style="left:405.3px;top:531px;font-size:4.56px">N/F</div>
<div class="t bi tiny" style="left:402.6px;top:538px;font-size:4.68px">EDEN</div>
<div class="t bi tiny" style="left:388.6px;top:544px;font-size:4.87px">PARCEL# 113 040A</div>
<div class="t bi tiny" style="left:397.7px;top:549px;font-size:4.75px">ZONED A2</div>
<div class="t bi tiny" style="left:389.6px;top:554px;font-size:5.04px">D.B. 96 PAGE 570</div>
<div class="t bi tiny" style="left:390.2px;top:560px;font-size:5.05px">P.B. 19 PAGE 201</div>
<div class="t bi trk" style="left:360.9px;top:449px;font-size:6.87px">TRACT 1</div>
<div class="t bi trk" style="left:352.6px;top:456px;font-size:7.7px">29.79 ACRES</div>
<div class="t bi tiny" style="left:354.5px;top:467px;font-size:4.86px">D.B. 333 PAGE 307</div>
<div class="t bi tiny" style="left:354.5px;top:473px;font-size:4.79px">D.B. 18A PAGE 576</div>
<div class="t bi tiny" style="left:355.6px;top:479px;font-size:5.05px">P.B. 19 PAGE 736</div>
<div class="t bi tiny" style="left:227.4px;top:469.0px;width:48.6px;font-size:4.91px;transform:rotate(-31.1deg);transform-origin:50% 0.33px">N 58°40'02" E 2087.84'</div>
<div class="t bi tiny" style="left:209.2px;top:593.4px;width:46.9px;font-size:4.73px;transform:rotate(-23.9deg);transform-origin:50% 0.54px">S 66°06'20" W 1255.93'</div>
<div class="t bi tiny" style="left:72.2px;top:587px;font-size:4.15px">IPF</div>
<div class="t bi tiny" style="left:58.6px;top:601.8px;width:28.3px;font-size:4.47px;transform:rotate(63.1deg);transform-origin:50% 1.50px">N 27°02'21" W</div>
<div class="t bi tiny" style="left:59.7px;top:606.4px;width:13.0px;font-size:4.29px;transform:rotate(63.1deg);transform-origin:50% 1.61px">191.74'</div>
<div class="t bi tiny" style="left:91.8px;top:619px;font-size:4.15px">IPF</div>
<div class="t bi tiny" style="left:82.7px;top:631.4px;width:26.5px;font-size:4.19px;transform:rotate(35.4deg);transform-origin:50% 1.58px">N 54°59'43" W</div>
<div class="t bi tiny" style="left:85.7px;top:637.7px;width:14.0px;font-size:4.62px;transform:rotate(35.4deg);transform-origin:50% 1.51px">143.94'</div>
<div class="t bi tiny" style="left:116.2px;top:642px;font-size:4.68px">IPF</div>
<div class="t bi tiny" style="left:41.1px;top:623px;font-size:4.56px">N/F</div>
<div class="t bi tiny" style="left:34.4px;top:628px;font-size:4.5px">GRETSCH</div>
<div class="t bi tiny" style="left:25.4px;top:634px;font-size:5.03px">PARCEL# 113 004</div>
<div class="t bi tiny" style="left:33.5px;top:641px;font-size:4.75px">ZONED A2</div>
<div class="t bi tiny" style="left:24.2px;top:647px;font-size:4.96px">D.B. 35A PAGE 408</div>
<div class="t bi tiny" style="left:25.7px;top:652px;font-size:5.05px">P.B. A294 PAGE 3</div>
<div class="t bi tiny" style="left:258.7px;top:624px;font-size:4.56px">N/F</div>
<div class="t bi tiny" style="left:253.0px;top:630px;font-size:4.62px">GUNTER</div>
<div class="t bi tiny" style="left:243.0px;top:636px;font-size:5.03px">PARCEL# 113 040</div>
<div class="t bi tiny" style="left:251.1px;top:642px;font-size:4.75px">ZONED A2</div>
<div class="t bi tiny" style="left:244.8px;top:647px;font-size:5.05px">P.B. 5 PAGE 307</div>
<div class="t bi tiny" style="left:332.7px;top:520.4px;width:25.6px;font-size:4.15px;transform:rotate(-49.0deg);transform-origin:50% 1.58px">S 40°06'04" W</div>
<div class="t bi tiny" style="left:345.3px;top:526.3px;width:10.5px;font-size:4.15px;transform:rotate(-49.0deg);transform-origin:50% 1.58px">86.18'</div>
<div class="t bi tiny" style="left:372.8px;top:514px;font-size:4.84px">(686.86') IPS</div>
<div class="t bi tiny" style="left:364.2px;top:524px;font-size:4.61px">1 ¼" OTP</div>
<div class="t bi tiny" style="left:354.4px;top:536px;font-size:4.15px">1 ½" OTP</div>
<div class="t bi trk" style="left:633.6px;top:462px;font-size:6.72px">TRACT 3</div>
<div class="t bi trk" style="left:626.0px;top:468px;font-size:7.37px">12.00 ACRES</div>
<div class="t bi tiny" style="left:626.0px;top:480px;font-size:4.86px">D.B. 19M PAGE 315</div>
<div class="t bi tiny" style="left:628.1px;top:485px;font-size:5.05px">P.B. 19 PAGE 201</div>
<div class="t bi tiny" style="left:653.0px;top:485.4px;width:100.2px;font-size:5.03px;transform:rotate(-42.6deg);transform-origin:50% 1.32px">30' ROAD EASEMENT PER P.B. 19 PAGE 201</div>
<div class="t i tiny vlt" style="left:679.8px;top:485.2px;width:67.3px;font-size:4.15px;transform:rotate(-42.6deg);transform-origin:50% 1.52px">CENTER LINE OF 12' GRAVEL DRIVE</div>
<div class="t bi tiny" style="left:713.6px;top:479.5px;width:47.6px;font-size:5.05px;transform:rotate(-42.6deg);transform-origin:50% 1.32px">S 47°52'01" W 825.77'</div>
<div class="t bi tiny" style="left:668.9px;top:526.2px;width:29.7px;font-size:4.82px;transform:rotate(-42.6deg);transform-origin:50% 0.32px">S 40°51'01" W</div>
<div class="t bi tiny" style="left:680.5px;top:530.3px;width:15.3px;font-size:5.05px;transform:rotate(-42.6deg);transform-origin:50% 1.32px">245.02'</div>
<div class="t bi tiny" style="left:702.4px;top:506px;font-size:5.05px">IPF</div>
<div class="t bi tiny" style="left:664.8px;top:541px;font-size:4.56px">IPF</div>
<div class="t bi tiny" style="left:736.4px;top:439px;font-size:4.15px">1" OTP</div>
<div class="t bi tiny" style="left:727.0px;top:448px;font-size:4.76px">(30.00')</div>
<div class="t bi tiny" style="left:658.6px;top:554px;font-size:5.05px">(31.31')</div>
<div class="t bi tiny" style="left:651.6px;top:562px;font-size:5.05px">(31.25')</div>
<div class="t bi tiny lt" style="left:725.7px;top:428.5px;width:17.0px;font-size:4.6px;transform:rotate(42.1deg);transform-origin:50% 1.50px">(120.76')</div>
<div class="t bi tiny" style="left:758.7px;top:476px;font-size:4.56px">N/F</div>
<div class="t bi tiny" style="left:742.2px;top:483px;font-size:4.61px">WINGFIELD ET AL</div>
<div class="t bi tiny" style="left:743.0px;top:489px;font-size:5.03px">PARCEL# 113 041</div>
<div class="t bi tiny" style="left:751.0px;top:495px;font-size:4.75px">ZONED A2</div>
<div class="t bi tiny" style="left:742.3px;top:500px;font-size:5.05px">D.B. 206, PAGE 83</div>
<div class="t bi tiny" style="left:743.6px;top:506px;font-size:5.05px">P.B. 13 PAGE 568</div>
<div class="t bi tiny" style="left:709.2px;top:527px;font-size:4.56px">N/F</div>
<div class="t bi tiny" style="left:702.5px;top:532px;font-size:4.5px">FLEMING</div>
<div class="t bi tiny" style="left:691.7px;top:539px;font-size:5.05px">PARCEL# 113 040A</div>
<div class="t bi tiny" style="left:701.5px;top:545px;font-size:4.75px">ZONED A2</div>
<div class="t bi tiny" style="left:693.5px;top:551px;font-size:4.94px">D.B. 6B PAGE 281</div>
<div class="t bi tiny" style="left:694.1px;top:556px;font-size:5.05px">P.B. 31 PAGE 356</div>
<div class="t bi tiny" style="left:785.0px;top:418px;font-size:5.05px">IPF (P.O.B.)</div>
<div class="t bi tiny" style="left:784.6px;top:425px;font-size:4.62px">N: 1462595.70</div>
<div class="t bi tiny" style="left:784.6px;top:430px;font-size:4.28px">E: 2603436.30</div>
<div class="t bi tiny" style="left:784.6px;top:437px;font-size:4.78px">NORTH AMERICAN DATUM OF 1983</div>
<div class="t bi tiny" style="left:784.6px;top:442px;font-size:4.61px">GEORGIA STATE PLANE</div>
<div class="t bi tiny" style="left:784.6px;top:449px;font-size:4.86px">COORDINATE SYSTEM</div>
<div class="t bi tiny" style="left:784.6px;top:454px;font-size:4.51px">(EASTERN ZONE)</div>
<div class="t bi tiny" style="left:590.1px;top:580px;font-size:4.56px">N/F</div>
<div class="t bi tiny" style="left:585.4px;top:587px;font-size:4.86px">TITTLE</div>
<div class="t bi tiny" style="left:574.4px;top:592px;font-size:5.03px">PARCEL# 113 060</div>
<div class="t bi tiny" style="left:582.2px;top:599px;font-size:4.85px">ZONED A2</div>
<div class="t bi tiny" style="left:574.5px;top:603px;font-size:5.01px">D.B. 96 PAGE 492</div>
<div class="t bi tiny" style="left:575.0px;top:609px;font-size:5.05px">P.B. 19 PAGE 419</div>
<!-- LABELS_C -->
<div class="t bi tiny lt2" style="left:565.4px;top:358px;font-size:4.15px">HOUSE</div>
<div class="t bi tiny lt2" style="left:577.0px;top:330px;font-size:4.47px">DRIVEWAY</div>
<div class="t bi tiny lt2" style="left:576.7px;top:336px;font-size:4.15px">IN SERVICES</div>
<div class="t bi tiny lt2" style="left:534.6px;top:384px;font-size:4.38px">DRINKING</div>
<div class="t bi tiny lt2" style="left:534.6px;top:389px;font-size:4.36px">TANK</div>
<div class="t bi tiny lt2" style="left:516.0px;top:376px;font-size:4.32px">WELL</div>
<div class="t bi tiny lt2" style="left:545.0px;top:329px;font-size:4.41px">SHED</div>
<div class="t bi tiny lt2" style="left:549.5px;top:320px;font-size:4.15px">STORAGE</div>
<div class="t bi tiny lt2" style="left:516.9px;top:355px;font-size:4.15px">TOWER</div>
<div class="t bi tiny lt2" style="left:490.0px;top:342px;font-size:4.15px">GARAGE</div>
<div class="t bi tiny lt2" style="left:511.3px;top:416px;font-size:4.15px">SHED</div>
<div class="t bi tiny lt2" style="left:538.2px;top:422px;font-size:4.15px">SHED</div>
<div class="t bi tiny lt2" style="left:528.1px;top:437px;font-size:4.15px">SHED</div>
<div class="t bi tiny lt2" style="left:515.7px;top:445px;font-size:4.15px">BARN</div>
<div class="t bi tiny" style="left:513.5px;top:427px;font-size:4.15px">L.P.R.</div>
<!-- PLANNING + ZONING APPROVAL STAMP -->
<svg width="1024" height="750" viewBox="0 0 1024 750">
 <g fill="none" stroke="#444" stroke-width="0.8">
  <path d="M477 656.3H499M475.5 662.2H500.5M479 656.5L482.5 662M487.5 656.5V662M493.5 656.5L491 662M497 656.5L496 662" stroke-width="0.9"/>
  <path d="M480 659.3H497" stroke-width="1.1" stroke="#333"/>
  <path d="M469.8 701.2H521.4M489 710.2H521.4M489 718.8H521.4" stroke="#888" stroke-width="0.7"/>
 </g>
 <path id="ogarc" d="M461.5 671.8Q487.8 665.6 514 671.8" fill="none"/>
 <text font-family="'DejaVu Serif','Liberation Serif',serif" font-weight="bold" font-size="4.6" fill="#222" stroke="#222" stroke-width="0.22" letter-spacing="1.05"><textPath href="#ogarc" startOffset="50%" text-anchor="middle">OGLETHORPE</textPath></text>
</svg>

<!-- SURVEYOR CERTIFICATIONS -->
<svg width="1024" height="750" viewBox="0 0 1024 750">
 <g transform="translate(575,640) scale(0.166)" fill="none" stroke="#1e1e1e" stroke-width="6.8" stroke-linecap="round" stroke-linejoin="round">
  <path d="M100 548L152 428L150 528L186 452L198 522L228 500L244 524L268 505L284 520L302 494"/>
  <path d="M356 446L322 545"/>
  <path d="M334 458Q380 425 420 440Q450 465 415 505Q380 535 330 542"/>
  <path d="M404 524L408 527"/>
  <path d="M524 432L496 518Q505 530 522 518L566 440L546 518Q560 525 578 510L600 500L620 520L640 506Q665 520 690 514"/>
 </g>
</svg>

<!-- _STAMPTEXT -->
<div class="t sb c4" style="left:476.9px;top:673px;font-size:2.69px;letter-spacing:1.75px">COUNTY</div>
<div class="t s c6" style="left:480.0px;top:676px;font-size:2.31px;letter-spacing:0.8px">GEORGIA</div>
<div class="t sb c1" style="left:455.0px;top:684px;font-size:4.06px">PLANNING + ZONING APPROVAL</div>
<div class="t s c4" style="left:454.7px;top:698px;font-size:3.77px">Signed:</div>
<div class="t s c3" style="left:471.9px;top:698px;font-size:4.87px">Jeff Sharp</div>
<div class="t s c4" style="left:477.7px;top:707px;font-size:3.58px">Date:</div>
<div class="t s c3" style="left:490.2px;top:705px;font-size:4.37px">Jul 16 2024</div>
<div class="t s c4" style="left:478.4px;top:715px;font-size:3.99px">MS:</div>
<div class="t s c3" style="left:490.6px;top:715px;font-size:4.58px">S69</div>
<!-- CERTTEXT -->
<div class="t bi ul" style="left:612.8px;top:653px;font-size:7.1px">SURVEYOR CERTIFICATIONS</div>
<div class="t sb cert" style="left:587.5px;top:666px;font-size:3.42px">AS REQUIRED BY SUBSECTION (D) OF O.C.G.A. SECTION 15-6-67, THIS PLAT HAS BEEN</div>
<div class="t sb cert" style="left:587.5px;top:670px;font-size:3.39px">PREPARED BY A LAND SURVEYOR AND APPROVED BY ALL APPLICABLE LOCAL</div>
<div class="t sb cert" style="left:587.5px;top:674px;font-size:3.44px">JURISDICTIONS FOR RECORDING AS EVIDENCED BY APPROVAL CERTIFICATES,</div>
<div class="t sb cert" style="left:587.5px;top:679px;font-size:3.39px">SIGNATURES, STAMPS, OR STATEMENTS HEREON. SUCH APPROVALS OR</div>
<div class="t sb cert" style="left:587.5px;top:683px;font-size:3.48px">AFFIRMATIONS SHOULD BE CONFIRMED WITH THE APPROPRIATE GOVERNMENTAL</div>
<div class="t sb cert" style="left:587.5px;top:687px;font-size:3.49px">BODIES BY ANY PURCHASER OR USER OF THIS PLAT AS TO INTENDED USE OF ANY</div>
<div class="t sb cert" style="left:587.5px;top:691px;font-size:3.46px">PARCEL. FURTHERMORE, THE UNDERSIGNED LAND SURVEYOR CERTIFIES THAT THIS</div>
<div class="t sb cert" style="left:587.5px;top:696px;font-size:3.55px">PLAT COMPLIES WITH THE MINIMUM TECHNICAL STANDARDS FOR PROPERTY</div>
<div class="t sb cert" style="left:587.5px;top:700px;font-size:3.43px">SURVEYS IN GEORGIA AS SET FORTH IN THE RULES AND REGULATIONS OF THE</div>
<div class="t sb cert" style="left:587.5px;top:704px;font-size:3.45px">GEORGIA BOARD OF REGISTRATION FOR PROFESSIONAL ENGINEERS AND LAND</div>
<div class="t sb cert" style="left:587.5px;top:708px;font-size:3.47px">SURVEYORS AND AS SET FORTH IN O.C.G.A. SECTION 15-6-67.</div>
<div class="t sb cert" style="left:587.5px;top:734px;font-size:3.47px">MATTHEW D. ULMER, GA RLS#3069</div>
<!-- SYMBOL LEGEND -->
<svg width="1024" height="750" viewBox="0 0 1024 750">
 <g fill="none" stroke="#aaa" stroke-width="0.7">
  <circle cx="794.8" cy="534.6" r="2.6" stroke="#333" stroke-width="0.9"/>
  <path d="M791.6 538.2L798.2 531" stroke="#333" stroke-width="0.9"/>
  <circle cx="794.8" cy="544.2" r="3"/>
  <circle cx="794.8" cy="553.4" r="2.8"/>
  <rect x="792" y="560.8" width="5.6" height="5.6" stroke-dasharray="1.2 1"/>
  <path d="M791.8 574.4H828.4" stroke="#777" stroke-width="0.8"/>
  <path d="M799 574.4h3M812 574.4h3" stroke="#555" stroke-width="1.1"/>
 </g>
</svg>

<!-- GRID NORTH -->
<svg width="1024" height="750" viewBox="0 0 1024 750">
 <g fill="none" stroke="#a8a8a8" stroke-width="0.75">
  <ellipse cx="814.3" cy="635.6" rx="8" ry="33"/>
  <ellipse cx="814.3" cy="635.6" rx="17" ry="33"/>
  <ellipse cx="814.3" cy="635.6" rx="26" ry="33"/>
  <path d="M792 611Q814.3 602 837 611" />
  <path d="M783 622Q814.3 611 845.5 622"/>
  <path d="M780 634Q814.3 628 848.5 634"/>
  <path d="M781 645Q814.3 645 847.5 645"/>
  <path d="M786 655.5Q814.3 662 842.5 655.5"/>
  <path d="M795 663.5Q814.3 669.5 833.5 663.5"/>
  <path d="M790.5 612Q776 635 792.5 660" stroke="#c8c8c8"/>
  <path d="M838 612Q852.5 635 836 660" stroke="#c8c8c8"/>
 </g>
 <path d="M814.3 601.7V669" stroke="#222" stroke-width="1.3" fill="none"/>
 <path d="M814.3 601.7L810.9 625.2L814.3 623.8" fill="#999" stroke="#333" stroke-width="0.9"/>
 <!-- graphic scale bar -->
 <rect x="753.5" y="721.2" width="128.5" height="9" fill="#fff" stroke="#333" stroke-width="1"/>
 <rect x="775.5" y="721.2" width="21.3" height="4.5" fill="#1c1c1c"/>
 <rect x="839.5" y="721.2" width="42.5" height="4.5" fill="#1c1c1c"/>
 <rect x="753.5" y="725.7" width="22" height="4.5" fill="#1c1c1c"/>
 <rect x="796.8" y="725.7" width="42.7" height="4.5" fill="#1c1c1c"/>
</svg>

<!-- LEGENDTEXT -->
<div class="t bi ul" style="left:807.4px;top:522px;font-size:7.09px">SYMBOL LEGEND</div>
<div class="t bi tiny" style="left:805.6px;top:535px;font-size:4.81px">CALCULATED POINT</div>
<div class="t bi tiny" style="left:805.6px;top:544px;font-size:4.95px">IRON MARKER FOUND</div>
<div class="t bi tiny" style="left:806.0px;top:554px;font-size:4.68px">1/2 " IRON PIN SET</div>
<div class="t bi tiny" style="left:805.6px;top:563px;font-size:4.76px">CONCRETE MONUMENT</div>
<div class="t bi" style="left:831.4px;top:573px;font-size:4.78px">FENCE</div>
<div class="t bi" style="left:783.4px;top:676px;font-size:10.57px">GRID NORTH</div>
<div class="t bi cert2" style="left:794.6px;top:689px;font-size:3.5px">BEARINGS ARE BASED ON</div>
<div class="t bi cert2" style="left:787.1px;top:694px;font-size:3.51px">NORTH AMERICAN DATUM OF 1983</div>
<div class="t bi cert2" style="left:777.0px;top:698px;font-size:3.56px">GEORGIA STATE PLANE COORDINATE SYSTEM</div>
<div class="t bi cert2" style="left:803.1px;top:702px;font-size:3.26px">(EASTERN ZONE)</div>
<div class="t bi" style="left:779.1px;top:709px;font-size:8.89px">GRAPHIC SCALE</div>
<div class="t bi sc" style="left:751.2px;top:736px;font-size:5.79px">0'</div>
<div class="t bi sc" style="left:771.8px;top:736px;font-size:5.91px">100'</div>
<div class="t bi sc" style="left:792.2px;top:736px;font-size:5.91px">200'</div>
<div class="t bi sc" style="left:835.2px;top:736px;font-size:5.91px">400'</div>
<div class="t bi sc" style="left:877.8px;top:736px;font-size:5.91px">600'</div>
<div class="t bi" style="left:770.6px;top:747px;font-size:10.75px">1 INCH = 200 FEET</div>
<!-- SURVEYOR SEAL -->
<svg width="1024" height="750" viewBox="0 0 1024 750">
 <g fill="none" stroke="#7a7a7a">
  <circle cx="954.5" cy="698.5" r="33" stroke-width="1.3"/>
  <circle cx="954.5" cy="698.5" r="31.2" stroke-width="0.5" stroke="#aaa"/>
  <circle cx="954.5" cy="698.5" r="23.4" stroke-width="0.9"/>
  <circle cx="954.5" cy="698.5" r="22" stroke-width="0.4" stroke="#aaa"/>
 </g>
 <path id="sealTop" d="M928.5 698.5A26 26 0 0 1 980.5 698.5" fill="none"/>
 <path id="sealBot" d="M924.3 698.5A30.2 30.2 0 0 0 984.7 698.5" fill="none"/>
 <path id="sealIn1" d="M936.5 698.5A18 18 0 0 1 972.5 698.5" fill="none"/>
 <path id="sealIn2" d="M934 698.5A20.5 20.5 0 0 0 975 698.5" fill="none"/>
 <g font-family="'Liberation Sans',sans-serif" font-weight="bold" fill="#666">
  <text font-size="5" letter-spacing="3.2"><textPath href="#sealTop" startOffset="50%" text-anchor="middle">GEORGIA</textPath></text>
  <text font-size="4.4" letter-spacing="1.1"><textPath href="#sealBot" startOffset="50%" text-anchor="middle">MATTHEW D. ULMER</textPath></text>
  <text font-size="3.2" letter-spacing="0.5"><textPath href="#sealIn1" startOffset="50%" text-anchor="middle">REGISTERED</textPath></text>
  <text font-size="3" letter-spacing="0.5"><textPath href="#sealIn2" startOffset="50%" text-anchor="middle">LAND SURVEYOR</textPath></text>
  <text x="954.5" y="693" font-size="3.4" text-anchor="middle">No. 3069</text>
  <text x="946" y="700.5" font-size="2.8" text-anchor="middle">PROFESSIONAL</text>
 </g>
 <!-- signature across seal -->
 <g transform="translate(860,640) scale(0.16015)" fill="none" stroke="#141414" stroke-width="8.5" stroke-linecap="round" stroke-linejoin="round">
  <path d="M320 442L372 318L362 425L408 338L396 440L420 415L440 440L460 410L476 435L500 405L522 400"/>
  <path d="M590 330L545 440"/>
  <path d="M553 338Q600 310 640 322Q680 345 645 395Q610 428 545 442"/>
  <path d="M648 424L652 427"/>
  <path d="M745 340L718 418Q728 432 748 420L792 348"/>
  <path d="M822 315L772 420Q790 425 802 408L830 395L850 416L880 400Q905 410 930 405"/>
 </g>
</svg>

<!-- SEALTEXT -->
<div class="t bi tiny" style="left:944.3px;top:740px;font-size:5.05px">LSF000206</div>
<div class="t bi tiny" style="left:933.0px;top:746px;font-size:5.05px">EXPIRES 12-31-2024</div>

</div>
</body>
</html>
